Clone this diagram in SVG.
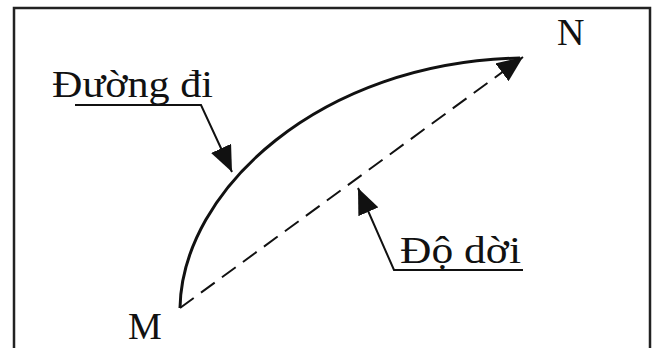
<svg xmlns="http://www.w3.org/2000/svg" width="656" height="348" viewBox="0 0 656 348">
<style>
.lbl{font-family:"Liberation Serif","DejaVu Serif",serif;font-size:38px;fill:#111}
.ln{fill:none;stroke:#111;stroke-width:2}
</style>
<defs>
<marker id="ah" viewBox="0 0 26 22" refX="26" refY="11" markerWidth="26" markerHeight="22" markerUnits="userSpaceOnUse" orient="auto">
<path d="M0,0 L26,11 L0,22 z" fill="#111"/>
</marker>
</defs>
<rect width="656" height="348" fill="#fff"/>
<path d="M14,360 L14,8 L650,8 L650,360" fill="none" stroke="#222" stroke-width="2.5"/>
<g id="connectors">
<path id="path-duong-di" d="M180,308 C182,190 320,62 520,58" fill="none" stroke="#111" stroke-width="3"/>
<path id="do-doi" d="M180,308 L523,57" class="ln" stroke-dasharray="17,9" marker-end="url(#ah)"/>
<path d="M75,105 L201,105 L232,172" class="ln" marker-end="url(#ah)"/>
<path d="M523,270 L394,270 L358,188" class="ln" marker-end="url(#ah)"/>
</g>
<g id="label-M"><text class="lbl" x="128" y="339">M</text></g>
<g id="label-N"><text class="lbl" x="557" y="45">N</text></g>
<g id="label-duong-di"><text class="lbl" x="52" y="97" textLength="161" lengthAdjust="spacingAndGlyphs">Đường đi</text></g>
<g id="label-do-doi"><text class="lbl" x="400" y="263" textLength="121" lengthAdjust="spacingAndGlyphs">Độ dời</text></g>
</svg>
